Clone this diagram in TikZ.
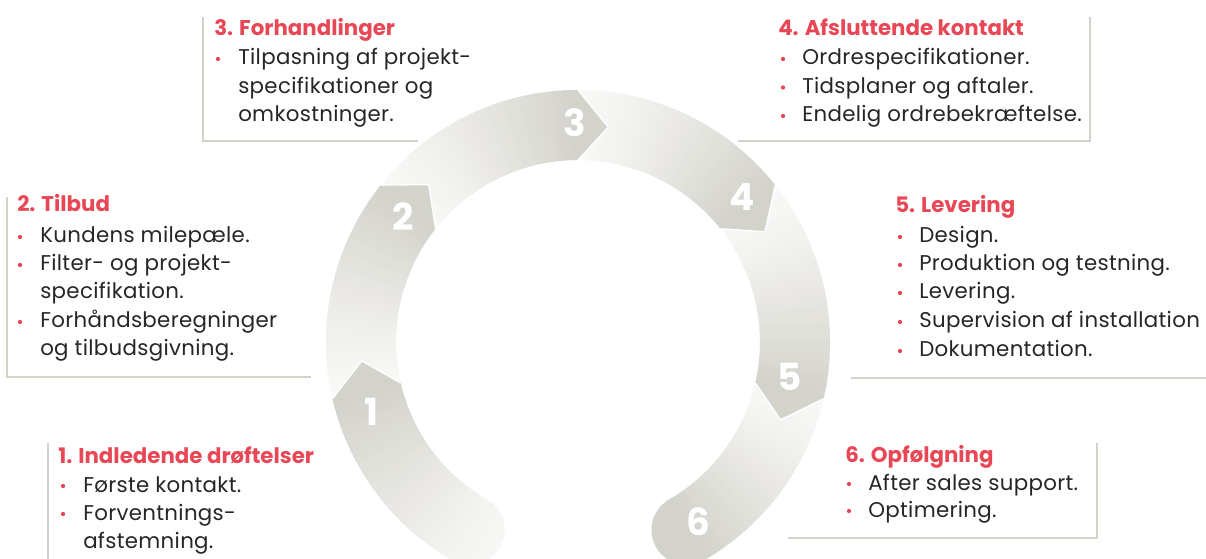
\documentclass[tikz,border=0pt]{standalone}
\usepackage{fontspec}
\setmainfont{Poppins}
\newfontfamily\bodyfont[LetterSpace=1.5]{Poppins}
\definecolor{accent}{RGB}{232,72,86}
\definecolor{ink}{RGB}{38,38,38}
\definecolor{framec}{RGB}{212,210,203}
\definecolor{ringdark}{RGB}{211,210,203}
\definecolor{ringlight}{RGB}{249,249,247}
\newcommand\gradfill[2]{%
  \fill[ringlight] (0,0) circle (290);
  \foreach \k in {0,...,40}{
    \pgfmathsetmacro\tha{#1-(#1-#2)*(\k-0.7)/40}
    \pgfmathsetmacro\thb{#1-(#1-#2)*(\k+0.7)/40}
    \pgfmathtruncatemacro\pct{100*(\k/40)^1.2}
    \fill[ringdark!\pct!ringlight] (0,0) -- (\tha:290) arc[start angle=\tha,end angle=\thb,radius=290] -- cycle;
  }
  \fill[ringdark] (0,0) -- (#2:290) arc[start angle=#2,end angle=#2-15,radius=290] -- cycle;
}
\newcommand\segpath[2]{(#1:252) arc[start angle=#1,end angle=#2,radius=252] -- ({#2-8}:217) -- (#2:182) arc[start angle=#2,end angle=#1,radius=182] -- cycle}
\begin{document}
\begin{tikzpicture}[x=0.75pt,y=-0.75pt,
  ttl/.style={anchor=base west,inner sep=0pt,text=accent,font=\bfseries\fontsize{16}{19}\selectfont},
  txt/.style={anchor=base west,inner sep=0pt,text=ink,font=\bodyfont\fontsize{16}{19}\selectfont},
  bul/.style={circle,fill=accent,inner sep=0pt,minimum size=3.2pt},
  num/.style={text=white,inner sep=0pt,font=\bfseries\fontsize{28}{28}\selectfont},
  frameline/.style={draw=framec,line width=1.1pt},
  tipline/.style={draw=white,line width=1pt,line join=round}]
\useasboundingbox (0,0) rectangle (1206,559);
% ring
\begin{scope}[shift={(578,342)},yscale=-1]
  % segment 6
  \begin{scope}
    \clip (-13:252) arc[start angle=-13,end angle=-60,radius=252] arc[start angle=-60,end angle=-240,radius=35] arc[start angle=-60,end angle=-13,radius=182] -- cycle;
    \gradfill{-13}{-60}
  \end{scope}
  % segment 5
  \begin{scope}
    \clip \segpath{38.5}{-13};
    \gradfill{38.5}{-13}
  \end{scope}
  \draw[tipline] (-13:252) -- (-21:217) -- (-13:182);
  % segment 4
  \begin{scope}
    \clip \segpath{90}{38.5};
    \gradfill{90}{38.5}
  \end{scope}
  \draw[tipline] (38.5:252) -- (30.5:217) -- (38.5:182);
  % segment 3
  \begin{scope}
    \clip \segpath{141.5}{90};
    \gradfill{141.5}{90}
  \end{scope}
  \draw[tipline] (90:252) -- (82:217) -- (90:182);
  % segment 2
  \begin{scope}
    \clip \segpath{193}{141.5};
    \gradfill{193}{141.5}
  \end{scope}
  \draw[tipline] (141.5:252) -- (133.5:217) -- (141.5:182);
  % segment 1
  \begin{scope}
    \clip (240:252) arc[start angle=240,end angle=193,radius=252] -- (185:217) -- (193:182) arc[start angle=193,end angle=240,radius=182] arc[start angle=60,end angle=-120,radius=35] -- cycle;
    \gradfill{252}{193}
  \end{scope}
  \draw[tipline] (193:252) -- (185:217) -- (193:182);
\end{scope}
% numbers
\node[num] (n1) at (372,412) {1};
\node[num] (n2) at (403,217) {2};
\node[num] (n3) at (575,123) {3};
\node[num] (n4) at (742,197) {4};
\node[num] (n5) at (790,377) {5};
\node[num] (n6) at (698,522) {6};
% frames
\draw[frameline] (203,17) -- (203,141) -- (418,141);
\draw[frameline] (738,141) -- (1090,141) -- (1090,17);
\draw[frameline] (7,197) -- (7,377) -- (311,377);
\draw[frameline] (851,378) -- (1206,378);
\draw[frameline] (48,443) -- (48,559);
\draw[frameline] (788,538) -- (1097,538) -- (1097,443);
% box 3
\node[ttl] (h3) at (214,36) {3. Forhandlinger};
\node[bul] (b3a) at (218,59) {};
\node[txt] (t3a) at (238,65) {Tilpasning af projekt-};
\node[txt] (t3b) at (238,93.5) {specifikationer og};
\node[txt] (t3c) at (238,122) {omkostninger.};
% box 4
\node[ttl] (h4) at (778,36) {4. Afsluttende kontakt};
\node[bul] (b4a) at (783,59) {};
\node[txt] (t4a) at (802,65) {Ordrespecifikationer.};
\node[bul] (b4b) at (783,87.5) {};
\node[txt] (t4b) at (802,93.5) {Tidsplaner og aftaler.};
\node[bul] (b4c) at (783,116) {};
\node[txt] (t4c) at (802,122) {Endelig ordrebekræftelse.};
% box 2
\node[ttl] (h2) at (17,212) {2. Tilbud};
\node[bul] (b2a) at (20,237) {};
\node[txt] (t2a) at (40,243) {Kundens milepæle.};
\node[bul] (b2b) at (20,265) {};
\node[txt] (t2b) at (40,271) {Filter- og projekt-};
\node[txt] (t2c) at (40,299) {specifikation.};
\node[bul] (b2d) at (20,322) {};
\node[txt] (t2d) at (40,328) {Forhåndsberegninger};
\node[txt] (t2e) at (40,356) {og tilbudsgivning.};
% box 5
\node[ttl] (h5) at (895,213) {5. Levering};
\node[bul] (b5a) at (900,237) {};
\node[txt] (t5a) at (919,243) {Design.};
\node[bul] (b5b) at (900,265) {};
\node[txt] (t5b) at (919,271) {Produktion og testning.};
\node[bul] (b5c) at (900,293) {};
\node[txt] (t5c) at (919,299) {Levering.};
\node[bul] (b5d) at (900,322) {};
\node[txt] (t5d) at (919,328) {Supervision af installation};
\node[bul] (b5e) at (900,351) {};
\node[txt] (t5e) at (919,357) {Dokumentation.};
% box 1
\node[ttl] (h1) at (58,463) {1. Indledende drøftelser};
\node[bul] (b1a) at (63,486) {};
\node[txt] (t1a) at (83,492) {Første kontakt.};
\node[bul] (b1b) at (63,514) {};
\node[txt] (t1b) at (83,520) {Forventnings-};
\node[txt] (t1c) at (83,548) {afstemning.};
% box 6
\node[ttl] (h6) at (845,462) {6. Opfølgning};
\node[bul] (b6a) at (849,484) {};
\node[txt] (t6a) at (868,490) {After sales support.};
\node[bul] (b6b) at (849,511) {};
\node[txt] (t6b) at (868,517) {Optimering.};
\end{tikzpicture}
\end{document}
